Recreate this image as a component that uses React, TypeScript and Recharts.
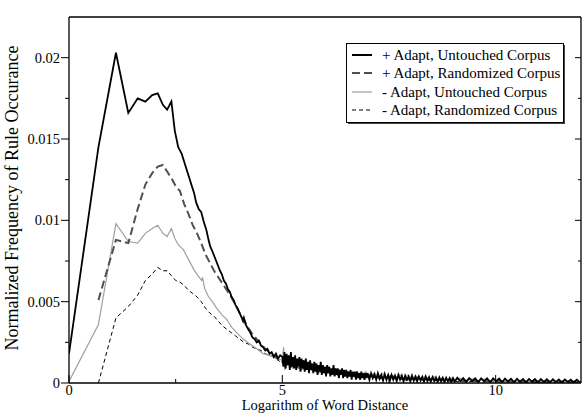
import React from 'react';
import { LineChart, Line, XAxis, YAxis, Legend } from 'recharts';

const FONT = 'Liberation Serif, Times New Roman, Times, serif';

const X_TICKS = [0, 2.5, 5, 7.5, 10];
const X_MAJOR = [0, 5, 10];
const Y_TICKS = [0, 0.0025, 0.005, 0.0075, 0.01, 0.0125, 0.015, 0.0175, 0.02];
const Y_MAJOR = [0, 0.005, 0.01, 0.015, 0.02];
const X_DOMAIN: [number, number] = [0, 12];
const Y_DOMAIN: [number, number] = [0, 0.0225];

const X_TITLE = 'Logarithm of Word Distance';
const Y_TITLE = 'Normalized Frequency of Rule Occurance';

const SERIES_NAMES = [
  '+ Adapt, Untouched Corpus',
  '+ Adapt, Randomized Corpus',
  '- Adapt, Untouched Corpus',
  '- Adapt, Randomized Corpus',
];

// + Adapt, Untouched Corpus
const plusUntouched: [number, number][] = [
  [0, 0.0018], [0.69, 0.0145], [1.1, 0.0203], [1.39, 0.0166], [1.61, 0.0175], [1.79, 0.0173],
  [1.95, 0.0177], [2.08, 0.0178], [2.2, 0.0171], [2.3, 0.0168], [2.4, 0.0173], [2.48, 0.0155],
  [2.56, 0.0145], [2.64, 0.0141], [2.7, 0.0136], [2.76, 0.0131], [2.82, 0.0126], [2.88, 0.0121],
  [2.93, 0.0117], [2.98, 0.0111], [3.04, 0.0107], [3.1, 0.0105], [3.16, 0.0099], [3.22, 0.0094],
  [3.27, 0.0088], [3.31, 0.0084], [3.36, 0.0081], [3.42, 0.0077], [3.48, 0.0073], [3.54, 0.0069],
  [3.58, 0.0067], [3.63, 0.0063], [3.68, 0.0061], [3.72, 0.0058], [3.77, 0.0056], [3.81, 0.0053],
  [3.86, 0.0051], [3.9, 0.0048], [3.95, 0.0046], [4.0, 0.0043], [4.05, 0.004], [4.08, 0.0038],
  [4.1, 0.004], [4.14, 0.0036], [4.2, 0.0033], [4.25, 0.0031], [4.3, 0.0028], [4.35, 0.0027],
  [4.4, 0.0025], [4.45, 0.0026], [4.5, 0.0023], [4.55, 0.0022], [4.6, 0.002], [4.65, 0.0021],
  [4.7, 0.0018], [4.75, 0.0019], [4.8, 0.0016], [4.85, 0.0018], [4.9, 0.0015], [4.95, 0.0017],
  [5.0, 0.0016], [5.025, 0.001], [5.05, 0.0019], [5.075, 0.0009], [5.1, 0.0018], [5.125, 0.0011],
  [5.15, 0.0017], [5.175, 0.0008], [5.2, 0.0019], [5.225, 0.001], [5.25, 0.0016], [5.275, 0.0009],
  [5.3, 0.0017], [5.325, 0.0008], [5.35, 0.0015], [5.375, 0.001], [5.4, 0.0016], [5.425, 0.0007],
  [5.45, 0.0015], [5.475, 0.0009], [5.5, 0.0014], [5.525, 0.0007], [5.55, 0.0015], [5.575, 0.0008],
  [5.6, 0.0013], [5.625, 0.0006], [5.65, 0.0014], [5.675, 0.0008], [5.7, 0.0012], [5.725, 0.0006],
  [5.75, 0.0013], [5.775, 0.0007], [5.8, 0.0012], [5.825, 0.0005], [5.85, 0.0011], [5.875, 0.0007],
  [5.9, 0.0013], [5.925, 0.0005], [5.95, 0.0011], [5.975, 0.0006], [6.0, 0.001], [6.025, 0.0004],
  [6.05, 0.0011], [6.075, 0.0006], [6.1, 0.001], [6.125, 0.0004], [6.15, 0.0009], [6.175, 0.0005],
  [6.2, 0.0011], [6.225, 0.0004], [6.25, 0.0009], [6.275, 0.0005], [6.3, 0.0009], [6.325, 0.0003],
  [6.35, 0.0008], [6.375, 0.0005], [6.4, 0.0009], [6.425, 0.0003], [6.45, 0.0008], [6.475, 0.0004],
  [6.5, 0.0008], [6.525, 0.0003], [6.55, 0.0007], [6.575, 0.0004], [6.6, 0.0008], [6.625, 0.0002],
  [6.65, 0.0007], [6.675, 0.0004], [6.7, 0.0007], [6.725, 0.0002], [6.75, 0.0007], [6.775, 0.0003],
  [6.8, 0.0006], [6.825, 0.0002], [6.85, 0.0007], [6.875, 0.0003], [6.9, 0.0006], [6.925, 0.0002],
  [6.95, 0.0006], [6.975, 0.0003], [7.0, 0.0006], [7.04, 0.0002], [7.08, 0.0006], [7.12, 0.0003],
  [7.16, 0.00055], [7.2, 0.0002], [7.24, 0.0006], [7.28, 0.00025], [7.32, 0.0005], [7.36, 0.00015],
  [7.4, 0.00055], [7.44, 0.0002], [7.48, 0.0005], [7.52, 0.00015], [7.56, 0.0005], [7.6, 0.0002],
  [7.64, 0.00045], [7.68, 0.00012], [7.72, 0.0005], [7.76, 0.0002], [7.8, 0.00045], [7.84, 0.0001],
  [7.88, 0.00045], [7.92, 0.0002], [7.96, 0.0004], [8.0, 0.0001], [8.04, 0.00045], [8.08, 0.00015],
  [8.12, 0.0004], [8.16, 0.0001], [8.2, 0.0004], [8.24, 0.00015], [8.28, 0.00038], [8.32, 0.00008],
  [8.36, 0.0004], [8.4, 0.00012], [8.44, 0.00036], [8.48, 0.00008], [8.52, 0.00036], [8.56, 0.00012],
  [8.6, 0.00034], [8.64, 0.00006], [8.68, 0.00034], [8.72, 0.0001], [8.76, 0.00032], [8.8, 0.00006],
  [8.84, 0.00032], [8.88, 0.0001], [8.92, 0.0003], [8.96, 0.00005], [9.0, 0.0003], [9.04, 0.00008],
  [9.1, 0.00032], [9.17, 0.00012], [9.24, 0.0003], [9.31, 0.00006], [9.38, 0.0003], [9.45, 0.00012],
  [9.52, 0.00029], [9.59, 0.00005], [9.66, 0.00029], [9.73, 0.0001], [9.8, 0.00028], [9.87, 0.00005],
  [9.94, 0.00028], [10.01, 0.0001], [10.08, 0.00027], [10.15, 0.00004], [10.22, 0.00027], [10.29, 0.00009],
  [10.36, 0.00026], [10.43, 0.00004], [10.5, 0.00026], [10.57, 0.00008], [10.64, 0.00025], [10.71, 0.00003],
  [10.78, 0.00025], [10.85, 0.00008], [10.92, 0.00024], [10.99, 0.00003], [11.06, 0.00024], [11.13, 0.00007],
  [11.2, 0.00023], [11.27, 0.00003], [11.34, 0.00023], [11.41, 0.00007], [11.48, 0.00022], [11.55, 0.00003],
  [11.62, 0.00022], [11.69, 0.00006], [11.76, 0.00021], [11.83, 0.00003], [11.9, 0.0002], [11.97, 0.00005],
];

// + Adapt, Randomized Corpus
const plusRandomized: [number, number][] = [
  [0.69, 0.0051], [1.1, 0.0088], [1.39, 0.0086], [1.61, 0.0107], [1.79, 0.0122], [1.95, 0.0129],
  [2.08, 0.0133], [2.2, 0.0134], [2.3, 0.013], [2.4, 0.0126], [2.5, 0.0121], [2.6, 0.0118],
  [2.7, 0.011], [2.8, 0.0104], [2.9, 0.0097], [3.0, 0.0092], [3.1, 0.0086], [3.2, 0.0079],
  [3.3, 0.0074], [3.4, 0.0069], [3.5, 0.0065], [3.6, 0.0061], [3.7, 0.0057], [3.8, 0.0053],
  [3.9, 0.0048], [4.0, 0.0043], [4.1, 0.0039], [4.2, 0.0034], [4.3, 0.003], [4.4, 0.0027],
  [4.5, 0.0024], [4.6, 0.0021], [4.7, 0.0019], [4.8, 0.0017], [4.9, 0.0015], [5.0, 0.0013],
  [5.1, 0.0014], [5.2, 0.001], [5.3, 0.0012], [5.4, 0.0011], [5.5, 0.0009], [5.6, 0.0008],
  [5.7, 0.001], [5.8, 0.0009], [5.9, 0.0007], [6.0, 0.0007], [6.1, 0.0008], [6.2, 0.0007],
  [6.3, 0.0005], [6.4, 0.0005], [6.5, 0.0006], [6.6, 0.0006], [6.7, 0.0004], [6.8, 0.0004],
  [6.9, 0.0005], [7.0, 0.0005], [7.3, 0.0003], [7.6, 0.0004], [7.9, 0.0002], [8.2, 0.0003],
  [8.5, 0.0002], [8.8, 0.0002], [9.1, 0.00012], [9.4, 0.00015], [9.7, 0.0001], [10.0, 0.0001],
  [10.5, 0.00008], [11.0, 0.00007], [11.5, 0.00006], [12.0, 0.00005],
];

// - Adapt, Untouched Corpus
const minusUntouched: [number, number][] = [
  [0, 0.0001], [0.69, 0.0036], [1.1, 0.0098], [1.39, 0.0087], [1.61, 0.0086], [1.79, 0.0092],
  [1.95, 0.0095], [2.08, 0.0097], [2.2, 0.0092], [2.3, 0.009], [2.4, 0.0095], [2.48, 0.0089],
  [2.56, 0.0085], [2.68, 0.0082], [2.8, 0.0076], [2.92, 0.007], [3.02, 0.0066], [3.11, 0.0063],
  [3.13, 0.0065], [3.18, 0.0058], [3.27, 0.0053], [3.36, 0.005], [3.46, 0.0046], [3.58, 0.0042],
  [3.7, 0.0039], [3.82, 0.0034], [3.93, 0.0031], [4.08, 0.0027], [4.24, 0.0024], [4.4, 0.0021],
  [4.55, 0.0018], [4.7, 0.0017], [4.86, 0.0015], [5.0, 0.0014], [5.03, 0.0022], [5.06, 0.0008],
  [5.15, 0.0013], [5.25, 0.0009], [5.35, 0.0012], [5.45, 0.0008], [5.55, 0.0011], [5.65, 0.0008],
  [5.75, 0.001], [5.85, 0.0006], [5.95, 0.0009], [6.05, 0.0006], [6.15, 0.0008], [6.25, 0.0005],
  [6.35, 0.0008], [6.45, 0.0005], [6.55, 0.0007], [6.65, 0.0005], [6.75, 0.0007], [6.85, 0.0004],
  [6.95, 0.0007], [7.05, 0.0004], [7.15, 0.0006], [7.25, 0.0004], [7.35, 0.0006], [7.45, 0.0003],
  [7.55, 0.0005], [7.65, 0.0003], [7.75, 0.0005], [7.85, 0.0003], [7.95, 0.0005], [8.05, 0.0002],
  [8.15, 0.0004], [8.25, 0.0003], [8.35, 0.0004], [8.45, 0.0002], [8.55, 0.0004], [8.65, 0.0002],
  [8.75, 0.0003], [8.85, 0.0002], [8.95, 0.0003], [9.05, 0.0002], [9.15, 0.0003], [9.3, 0.00015],
  [9.45, 0.00025], [9.6, 0.00015], [9.75, 0.00025], [9.9, 0.0001], [10.05, 0.0002], [10.2, 0.0001],
  [10.35, 0.0002], [10.5, 0.0001], [10.65, 0.00018], [10.8, 0.00008], [10.95, 0.00016], [11.1, 0.00008],
  [11.25, 0.00016], [11.4, 0.00007], [11.55, 0.00014], [11.7, 0.00007], [11.85, 0.00012], [12.0, 0.00006],
];

// - Adapt, Randomized Corpus
const minusRandomized: [number, number][] = [
  [0.69, 0], [1.1, 0.004], [1.39, 0.0047], [1.61, 0.0054], [1.79, 0.0063], [1.95, 0.0067],
  [2.08, 0.0071], [2.2, 0.0069], [2.3, 0.0069], [2.4, 0.0066], [2.5, 0.0063], [2.6, 0.0062],
  [2.7, 0.006], [2.8, 0.0057], [2.9, 0.0055], [3.0, 0.0053], [3.1, 0.005], [3.2, 0.0046],
  [3.3, 0.0043], [3.4, 0.0041], [3.5, 0.0038], [3.6, 0.0035], [3.7, 0.0033], [3.8, 0.0031],
  [3.9, 0.0029], [4.0, 0.0027], [4.1, 0.0025], [4.2, 0.0024], [4.3, 0.0022], [4.4, 0.0021],
  [4.5, 0.002], [4.6, 0.0018], [4.7, 0.0017], [4.8, 0.0016], [4.9, 0.0014], [5.0, 0.0012],
  [5.2, 0.0011], [5.4, 0.0009], [5.6, 0.0009], [5.8, 0.0007], [6.0, 0.0007], [6.2, 0.0006],
  [6.4, 0.0005], [6.6, 0.0005], [6.8, 0.0004], [7.0, 0.0004], [7.3, 0.0003], [7.6, 0.0003],
  [7.9, 0.0002], [8.2, 0.0002], [8.5, 0.00015], [8.8, 0.00015], [9.1, 0.0001], [9.5, 0.0001],
  [10.0, 0.00008], [10.5, 0.00006], [11.0, 0.00005], [11.5, 0.00004], [12.0, 0.00003],
];

const toRows = (pts: [number, number][]) => pts.map(([x, y]) => ({ x, y }));

const isIn = (v: number, list: number[]) => list.some((m) => Math.abs(m - v) < 1e-9);

const txt = { fontFamily: FONT };

const BottomTick = (p: any) => {
  const { x, y, payload } = p;
  const major = isIn(payload.value, X_MAJOR);
  return (
    <g>
      <line x1={x} x2={x} y1={y} y2={y - (major ? 8 : 4)} stroke="#000" strokeWidth={1} />
      {major && (
        <text x={x} y={y + 12} textAnchor="middle" fontSize={14.5} style={txt} fill="#000">
          {String(payload.value)}
        </text>
      )}
    </g>
  );
};

const TopTick = (p: any) => {
  const { x, y, payload } = p;
  const major = isIn(payload.value, X_MAJOR);
  if (payload.value === 0) return <g />;
  return <line x1={x} x2={x} y1={y} y2={y + (major ? 8 : 4)} stroke="#000" strokeWidth={1} />;
};

const LeftTick = (p: any) => {
  const { x, y, payload } = p;
  const major = isIn(payload.value, Y_MAJOR);
  return (
    <g>
      <line x1={x - (major ? 8 : 4)} x2={x} y1={y} y2={y} stroke="#000" strokeWidth={1} />
      {major && (
        <text x={x - 9} y={y + 5} textAnchor="end" fontSize={14.5} style={txt} fill="#000">
          {String(payload.value)}
        </text>
      )}
    </g>
  );
};

const RightTick = (p: any) => {
  const { x, y, payload } = p;
  const major = isIn(payload.value, Y_MAJOR);
  if (payload.value === 0) return <g />;
  return <line x1={x - (major ? 6 : 3)} x2={x} y1={y} y2={y} stroke="#000" strokeWidth={1} />;
};

const LEGEND_STYLES = [
  { stroke: '#000', width: 2, dash: undefined as string | undefined },
  { stroke: '#505050', width: 2, dash: '8 4' },
  { stroke: '#a0a0a0', width: 1.2, dash: undefined },
  { stroke: '#000', width: 1, dash: '4 3' },
];

const LegendBox = () => (
  <svg width={224} height={86} style={{ display: 'block', overflow: 'visible' }}>
    <rect x={2} y={2} width={217} height={79} fill="#444" />
    <rect x={0.5} y={0.5} width={217} height={79} fill="#fff" stroke="#000" strokeWidth={1} />
    {SERIES_NAMES.map((name, i) => {
      const cy = [12, 30, 49, 67][i];
      const s = LEGEND_STYLES[i];
      return (
        <g key={name}>
          <line x1={6} x2={26} y1={cy} y2={cy} stroke={s.stroke} strokeWidth={s.width} strokeDasharray={s.dash} />
          <text x={36} y={cy + 5} fontSize={15} style={txt} fill="#000">
            {name}
          </text>
        </g>
      );
    })}
  </svg>
);

export default function App() {
  return (
    <div style={{ position: 'absolute', left: 0, top: 0, width: 582, height: 416, background: '#fff', fontFamily: FONT }}>
      <LineChart width={582} height={416} margin={{ top: 16, right: 0, bottom: 0, left: 9 }}>
        <XAxis
          dataKey="x"
          type="number"
          domain={X_DOMAIN}
          ticks={X_TICKS}
          allowDataOverflow
          height={33}
          tickSize={0}
          tickMargin={0}
          tickLine={false}
          axisLine={{ stroke: '#000', strokeWidth: 1.3 }}
          tick={<BottomTick />}
          interval={0}
          label={{
            content: () => (
              <text x={325} y={410} textAnchor="middle" fontSize={14.5} style={txt} fill="#000">
                {X_TITLE}
              </text>
            ),
          }}
        />
        <XAxis
          xAxisId="top"
          orientation="top"
          type="number"
          domain={X_DOMAIN}
          ticks={X_TICKS}
          allowDataOverflow
          height={1}
          tickSize={0}
          tickMargin={0}
          tickLine={false}
          axisLine={{ stroke: '#000', strokeWidth: 1.3 }}
          tick={<TopTick />}
          interval={0}
        />
        <YAxis
          type="number"
          domain={Y_DOMAIN}
          ticks={Y_TICKS}
          allowDataOverflow
          width={60}
          tickSize={0}
          tickMargin={0}
          tickLine={false}
          axisLine={{ stroke: '#000', strokeWidth: 1.3 }}
          tick={<LeftTick />}
          interval={0}
          label={{
            content: () => (
              <text
                x={18}
                y={198}
                transform="rotate(-90 18 198)"
                textAnchor="middle"
                fontSize={18}
                style={txt}
                fill="#000"
              >
                {Y_TITLE}
              </text>
            ),
          }}
        />
        <YAxis
          yAxisId="right"
          orientation="right"
          type="number"
          domain={Y_DOMAIN}
          ticks={Y_TICKS}
          allowDataOverflow
          width={1}
          tickSize={0}
          tickMargin={0}
          tickLine={false}
          axisLine={{ stroke: '#000', strokeWidth: 1.3 }}
          tick={<RightTick />}
          interval={0}
        />
        <Legend
          layout="vertical"
          align="center"
          verticalAlign="middle"
          wrapperStyle={{ position: 'absolute', left: 346, top: 43, width: 224, height: 86 }}
          content={() => <LegendBox />}
        />
        <Line
          data={toRows(minusRandomized)}
          dataKey="y"
          name={SERIES_NAMES[3]}
          stroke="#000"
          strokeWidth={1}
          strokeDasharray="4 3"
          dot={false}
          isAnimationActive={false}
        />
        <Line
          data={toRows(minusUntouched)}
          dataKey="y"
          name={SERIES_NAMES[2]}
          stroke="#a0a0a0"
          strokeWidth={1.2}
          dot={false}
          isAnimationActive={false}
        />
        <Line
          data={toRows(plusRandomized)}
          dataKey="y"
          name={SERIES_NAMES[1]}
          stroke="#505050"
          strokeWidth={2}
          strokeDasharray="8 4"
          dot={false}
          isAnimationActive={false}
        />
        <Line
          data={toRows(plusUntouched)}
          dataKey="y"
          name={SERIES_NAMES[0]}
          stroke="#000"
          strokeWidth={1.8}
          dot={false}
          isAnimationActive={false}
        />
      </LineChart>
    </div>
  );
}
